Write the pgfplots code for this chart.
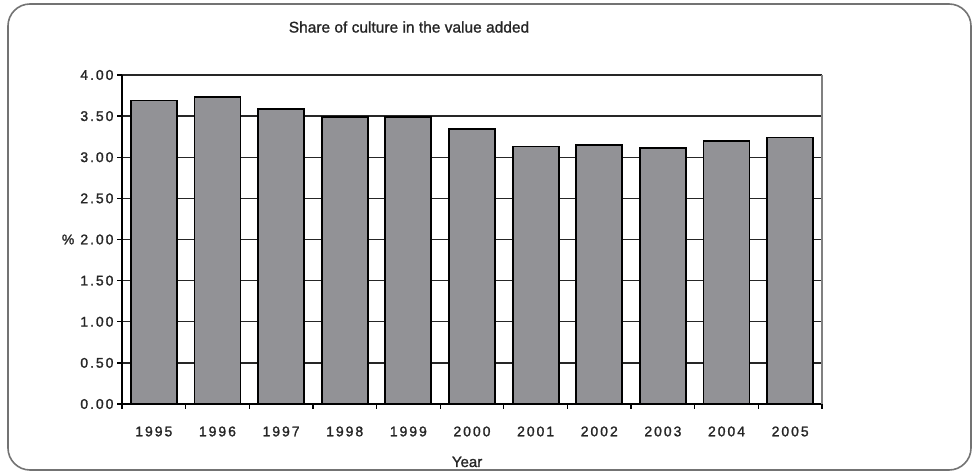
\documentclass[border=0pt]{standalone}
\usepackage{pgfplots}
\pgfplotsset{compat=1.18}
\usepackage{fontspec}
\setmainfont[FakeBold=1]{Liberation Sans}
\newfontfamily\tickfont[LetterSpace=14,FakeBold=1.5]{Liberation Sans}
\newfontfamily\labfont[FakeBold=1.2]{Liberation Sans}
\definecolor{barfill}{RGB}{146,146,150}
\begin{document}
\begin{tikzpicture}
\path[use as bounding box] (0,0) rectangle (976bp,472bp);
\draw[rounded corners=22bp, black!55, line width=1.6bp] (8bp,2bp) rectangle (971bp,468bp);
\node[font=\labfont\fontsize{15.5bp}{18bp}\selectfont, text=black!85] at (409bp,445bp) {Share of culture in the value added};
\begin{axis}[
  at={(122bp,68bp)}, anchor=south west, scale only axis,
  width=700bp, height=329bp,
  ymin=0, ymax=4, ytick={0,0.5,...,4},
  xmin=-0.5, xmax=10.5,
  xtick={-0.5,0.5,...,10.5}, xticklabels={},
  extra x ticks={0,1,2,3,4,5,6,7,8,9,10},
  extra x tick labels={1995,1996,1997,1998,1999,2000,2001,2002,2003,2004,2005},
  extra x tick style={major tick length=0pt},
  axis lines=left, axis line style={-, black, line width=1.3bp},
  tick align=outside, major tick length=5bp,
  tick style={black, line width=1.3bp},
  ymajorgrids, major grid style={black!85, line width=1.3bp},
  yticklabel style={font=\tickfont\fontsize{14bp}{16bp}\selectfont, text=black!85},
  xticklabel style={font=\tickfont\fontsize{14bp}{16bp}\selectfont, text=black!85, yshift=-19bp},
  /pgf/number format/.cd, fixed, fixed zerofill, precision=2, assume math mode=true,
  /pgfplots/.cd,
  xlabel={Year}, xlabel style={font=\labfont\fontsize{15bp}{18bp}\selectfont, text=black!85, at={(axis description cs:0.493,-0.176)}, anchor=center},
  ylabel={\%}, ylabel style={font=\tickfont\fontsize{14bp}{16bp}\selectfont, text=black!85, rotate=-90, at={(axis description cs:-0.077,0.5)}, anchor=center},
  clip=false,
]
\addplot[ybar, bar width=46bp, fill=barfill, draw=black, line width=1.8bp] coordinates {
  (0,3.69) (1,3.73) (2,3.59) (3,3.49) (4,3.49) (5,3.34)
  (6,3.13) (7,3.15) (8,3.11) (9,3.20) (10,3.24)
};
\draw[black!50, line width=1.3bp] (axis cs:10.5,0) -- (axis cs:10.5,4);
\end{axis}
\end{tikzpicture}
\end{document}
